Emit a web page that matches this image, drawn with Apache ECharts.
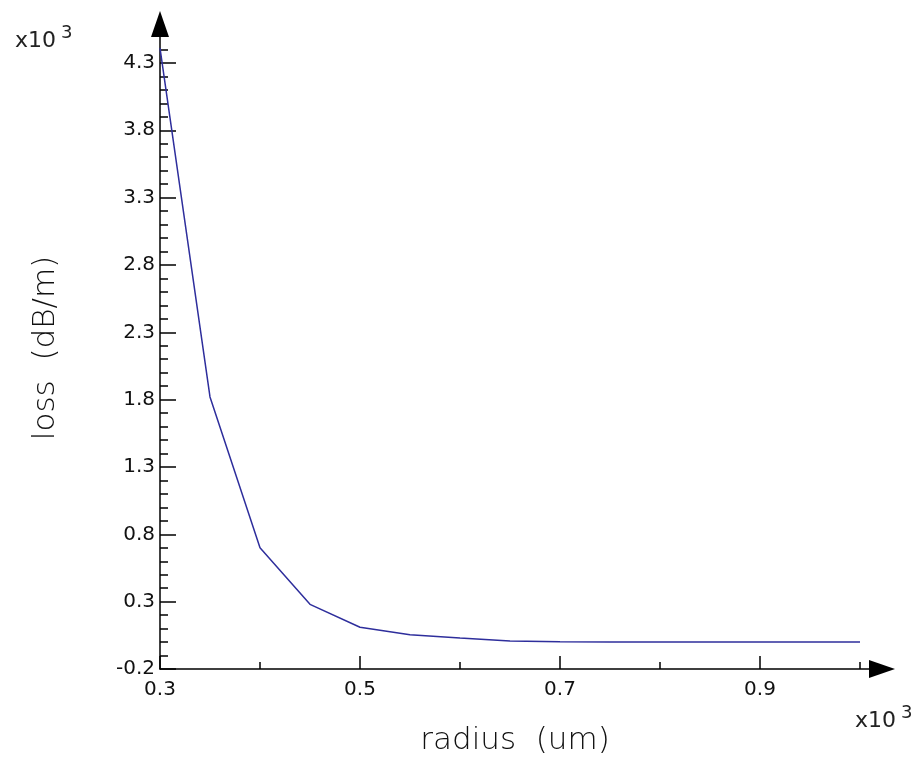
<!DOCTYPE html>
<html style="height: 100%">
<head>
	<meta charset="utf-8">
</head>
<body style="height: 100%; margin: 0; background: #fff">
<div id="container" style="width: 923px; height: 761px"></div>
<script type="text/javascript" src="https://cdn.jsdelivr.net/npm/echarts@6/dist/echarts.min.js"></script>
<script type="text/javascript">
    // radius (um) and loss (dB/m)
    var radius = [300, 350, 400, 450, 500, 550, 600, 650, 700, 750, 800, 850, 900, 950, 1000];
    var loss = [4410, 1820, 700, 280, 110, 55, 30, 8, 3, 1, 0, 0, 0, 0, 0];

    var xMajorTicks = [300, 500, 700, 900];
    var xMinorTicks = [400, 600, 800, 1000];
    var yMajorTicks = [-200, 300, 800, 1300, 1800, 2300, 2800, 3300, 3800, 4300];

    var fontFamily = 'DejaVu Sans, Verdana, sans-serif';

    function fmt(v) {
        return (v / 1000).toFixed(1);
    }

    var dom = document.getElementById("container");
    var myChart = echarts.init(dom);

    var axisLine = {
        show: true,
        onZero: false,
        symbol: ['none', 'triangle'],
        symbolSize: [18, 26],
        symbolOffset: [0, 12],
        lineStyle: { color: '#000', width: 1.5 }
    };
    var tickStyle = { color: '#000', width: 1.5 };

    var option = {
        backgroundColor: '#fff',
        animation: false,
        grid: { left: 160, right: 53, top: 36, bottom: 91 },
        xAxis: [
            {
                type: 'value', min: 300, max: 1010,
                axisLine: axisLine,
                axisTick: { show: true, inside: true, length: 13, customValues: xMajorTicks, lineStyle: tickStyle },
                axisLabel: { show: true, customValues: xMajorTicks, formatter: fmt,
                    color: '#111', fontSize: 20, fontFamily: fontFamily, margin: 11 },
                splitLine: { show: false },
                name: 'radius  (um)', nameLocation: 'middle', nameGap: 56,
                nameTextStyle: { fontSize: 31, fontWeight: 'lighter', color: '#111', fontFamily: fontFamily }
            },
            {
                type: 'value', min: 300, max: 1010, position: 'bottom',
                axisLine: { show: false, onZero: false },
                axisTick: { show: true, inside: true, length: 7, customValues: xMinorTicks, lineStyle: tickStyle },
                axisLabel: { show: false },
                splitLine: { show: false }
            }
        ],
        yAxis: [
            {
                type: 'value', min: -200, max: 4500,
                axisLine: axisLine,
                axisTick: { show: true, inside: true, length: 16, customValues: yMajorTicks, lineStyle: tickStyle },
                axisLabel: { show: true, customValues: yMajorTicks, formatter: fmt,
                    color: '#111', fontSize: 20, fontFamily: fontFamily, margin: 5 },
                splitLine: { show: false }
            },
            {
                type: 'value', min: -200, max: 4500, interval: 100, position: 'left',
                axisLine: { show: false, onZero: false },
                axisTick: { show: true, inside: true, length: 8, lineStyle: tickStyle },
                axisLabel: { show: false },
                splitLine: { show: false }
            }
        ],
        graphic: [
            {
                type: 'text', x: 46, y: 348, rotation: Math.PI / 2,
                style: { text: 'loss  (dB/m)', fill: '#111', align: 'center', verticalAlign: 'middle',
                    font: 'lighter 31px ' + fontFamily }
            },
            { type: 'text', left: 15, top: 30, style: { text: 'x10', fill: '#222', font: '22px ' + fontFamily } },
            { type: 'text', left: 61, top: 24, style: { text: '3', fill: '#222', font: '18px ' + fontFamily } },
            { type: 'text', left: 855, top: 710, style: { text: 'x10', fill: '#222', font: '22px ' + fontFamily } },
            { type: 'text', left: 901, top: 704, style: { text: '3', fill: '#222', font: '18px ' + fontFamily } }
        ],
        series: [
            {
                type: 'line',
                xAxisIndex: 0,
                yAxisIndex: 0,
                data: radius.map(function (r, i) { return [r, loss[i]]; }),
                showSymbol: false,
                lineStyle: { color: '#2e2e9c', width: 1.5 },
                z: 1
            }
        ]
    };

    myChart.setOption(option);
</script>
</body>
</html>
